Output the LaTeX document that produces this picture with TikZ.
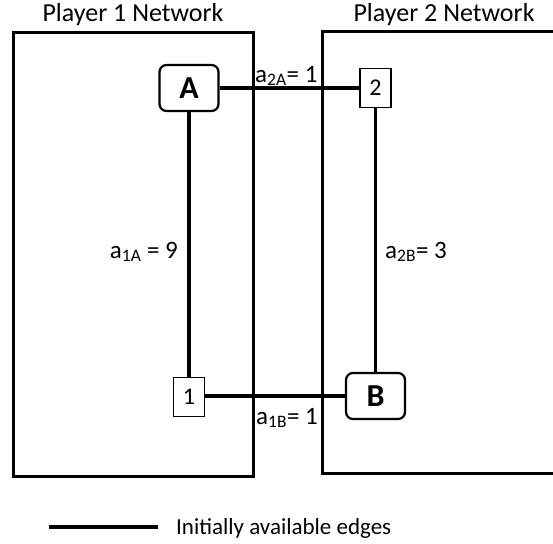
\documentclass[tikz,border=0pt]{standalone}
\usepackage{fontspec}
\setmainfont{Carlito}
\begin{document}
\begin{tikzpicture}[x=1pt,y=-1pt,
  region/.style={line width=3pt},
  player/.style={draw,line width=2.2pt,rounded corners=7pt,minimum width=59pt,minimum height=46pt,
    font=\fontsize{32}{32}\selectfont\bfseries,inner sep=0pt},
  relay/.style={draw,line width=1.6pt,minimum width=31pt,minimum height=39pt,
    font=\fontsize{24}{24}\selectfont,inner sep=0pt},
  edge/.style={line width=3.4pt},
  lbl/.style={font=\fontsize{25}{25}\selectfont,inner sep=0pt},
  head/.style={font=\fontsize{26}{26}\selectfont,inner sep=0pt},
  key/.style={font=\fontsize{23}{23}\selectfont,inner sep=0pt}]
\useasboundingbox (0,0) rectangle (553,543);
\clip (0,0) rectangle (553,543);

% network regions
\draw[region] (13,33) rectangle (253,476);
\draw[region] (322,32) rectangle (580,473);
\node[head] (t1) at (133,15) {Player 1 Network};
\node[head] (t2) at (444,15) {Player 2 Network};

% nodes
\node[player] (A) at (189,88) {A};
\node[relay] (n2) at (375.5,88) {2};
\node[relay] (n1) at (189,397) {1};
\node[player] (B) at (375.5,396) {B};

% edges
\draw[edge] (A) -- (n2);
\draw[edge] (A) -- (n1);
\draw[edge] (n2) -- (B);
\draw[edge] (n1.east |- B.west) -- (B.west);

% edge weights
\node[lbl,anchor=base west] (w2A) at (255,82) {a\textsubscript{2A}= 1};
\node[lbl,anchor=base east] (w1A) at (178,258) {a\textsubscript{1A} = 9};
\node[lbl,anchor=base west] (w2B) at (385,258) {a\textsubscript{2B}= 3};
\node[lbl,anchor=base west] (w1B) at (256,424) {a\textsubscript{1B}= 1};

% legend
\coordinate (l1) at (49,527);
\coordinate (l2) at (158,527);
\draw[edge] (l1) -- (l2);
\node[key,anchor=west] (lt) at (176,528) {Initially available edges};
\end{tikzpicture}
\end{document}
